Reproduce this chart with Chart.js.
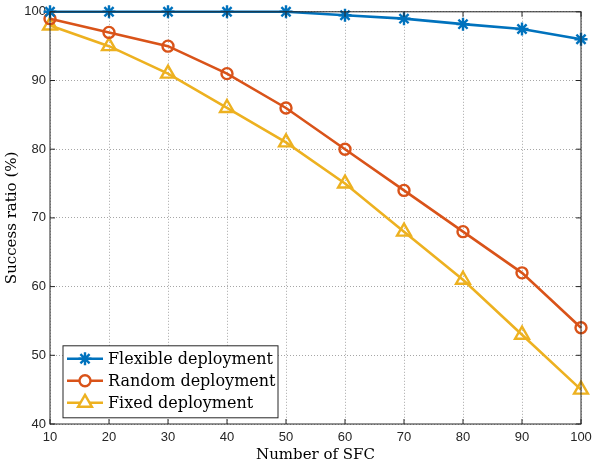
<!DOCTYPE html>
<html>
<head>
<meta charset="utf-8">
<script src="https://cdn.jsdelivr.net/npm/chart.js@4/dist/chart.umd.min.js"></script>
<style>
  html, body { margin: 0; padding: 0; background: #fff; }
  #wrap { width: 592px; height: 464px; }
</style>
</head>
<body>
<div id="wrap"><canvas id="c"></canvas></div>
<script>
const sfc = [10, 20, 30, 40, 50, 60, 70, 80, 90, 100];
const flexible = [100, 100, 100, 100, 100, 99.5, 99, 98.2, 97.5, 96];
const random = [99, 97, 95, 91, 86, 80, 74, 68, 62, 54];
const fixed = [98, 95, 91, 86, 81, 75, 68, 61, 53, 45];
const xTicks = [10, 20, 30, 40, 50, 60, 70, 80, 90, 100];
const yTicks = [40, 50, 60, 70, 80, 90, 100];

const serif = "'DejaVu Serif', 'Liberation Serif', serif";
const sans = "'Liberation Sans', Arial, sans-serif";

function pts(vals) {
    return vals.map((v, i) => ({x: sfc[i], y: v}));
}

function series(label, vals, color, style, radius) {
    return {
        label: label,
        data: pts(vals),
        borderColor: color,
        backgroundColor: 'rgba(0,0,0,0)',
        borderWidth: 2.6,
        pointStyle: style,
        pointRadius: radius,
        pointHoverRadius: radius,
        pointBorderWidth: 2.4,
        pointBorderColor: color,
        pointBackgroundColor: 'rgba(0,0,0,0)',
        tension: 0,
        clip: false
    };
}

// box, inward ticks and legend drawn like a matlab figure
const frame = {
    id: 'frame',
    afterDatasetsDraw(chart) {
        const {ctx, chartArea: a, scales} = chart;
        ctx.save();
        ctx.strokeStyle = '#262626';
        ctx.lineWidth = 1;
        ctx.strokeRect(a.left, a.top, a.right - a.left, a.bottom - a.top);
        ctx.beginPath();
        xTicks.forEach(t => {
            const x = scales.x.getPixelForValue(t);
            ctx.moveTo(x, a.bottom); ctx.lineTo(x, a.bottom - 5);
            ctx.moveTo(x, a.top); ctx.lineTo(x, a.top + 5);
        });
        yTicks.forEach(t => {
            const y = scales.y.getPixelForValue(t);
            ctx.moveTo(a.left, y); ctx.lineTo(a.left + 5, y);
            ctx.moveTo(a.right, y); ctx.lineTo(a.right - 5, y);
        });
        ctx.stroke();

        // legend box
        const bx = a.left + 13, by = a.top + 334, bw = 215, bh = 72;
        ctx.fillStyle = '#fff';
        ctx.fillRect(bx, by, bw, bh);
        ctx.strokeStyle = '#262626';
        ctx.strokeRect(bx, by, bw, bh);
        chart.data.datasets.forEach((ds, i) => {
            const y = by + 13 + i * 22;
            ctx.strokeStyle = ds.borderColor;
            ctx.lineWidth = 2.6;
            ctx.beginPath();
            ctx.moveTo(bx + 4, y); ctx.lineTo(bx + 40, y);
            ctx.stroke();
            ctx.lineWidth = ds.pointBorderWidth;
            ctx.fillStyle = '#fff';
            Chart.helpers.drawPoint(ctx, {
                pointStyle: ds.pointStyle,
                radius: ds.pointRadius,
                rotation: 0,
                borderWidth: ds.pointBorderWidth
            }, bx + 22, y);
            ctx.fillStyle = '#000';
            ctx.font = "16px " + serif;
            ctx.textBaseline = 'middle';
            ctx.fillText(ds.label, bx + 45, y + 1);
        });
        ctx.restore();
    }
};

new Chart(document.getElementById('c'), {
    type: 'line',
    data: {
        datasets: [
            series('Flexible deployment', flexible, '#0072BD', 'star', 6.5),
            series('Random deployment', random, '#D95319', 'circle', 5.5),
            series('Fixed deployment', fixed, '#EDB120', 'triangle', 8)
        ]
    },
    options: {
        responsive: true,
        maintainAspectRatio: false,
        animation: false,
        layout: {padding: {top: 6, right: 0, left: 3, bottom: 0}},
        plugins: {
            legend: {display: false},
            tooltip: {enabled: false}
        },
        scales: {
            x: {
                type: 'linear',
                min: 10,
                max: 100,
                afterBuildTicks: s => { s.ticks = xTicks.map(v => ({value: v})); },
                afterFit: s => { s.height = 40; s.paddingRight = 11; s.paddingLeft = 0; },
                grid: {color: 'rgba(0,0,0,0.35)', drawTicks: false},
                border: {display: false, dash: [1, 2]},
                ticks: {color: '#262626', font: {family: sans, size: 13}, padding: 6, maxRotation: 0},
                title: {display: true, text: 'Number of SFC', color: '#000',
                        font: {family: serif, size: 15}, padding: {top: 0, bottom: 0}}
            },
            y: {
                min: 40,
                max: 100,
                afterBuildTicks: s => { s.ticks = yTicks.map(v => ({value: v})); },
                afterFit: s => { s.width = 47; },
                grid: {color: 'rgba(0,0,0,0.35)', drawTicks: false},
                border: {display: false, dash: [1, 2]},
                ticks: {color: '#262626', font: {family: sans, size: 13}, padding: 4},
                title: {display: true, text: 'Success ratio (%)', color: '#000',
                        font: {family: serif, size: 15}, padding: {top: 0, bottom: 2}}
            }
        }
    },
    plugins: [frame]
});
</script>
</body>
</html>
